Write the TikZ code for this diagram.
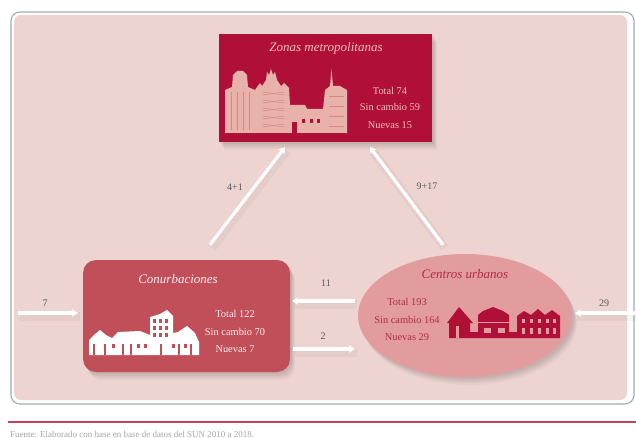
\documentclass[tikz,border=0pt]{standalone}
\usepackage{fontspec}
\setmainfont{Liberation Serif}
\usetikzlibrary{shapes.geometric,shadows,arrows.meta}
\definecolor{panelpink}{HTML}{EDD4D0}
\definecolor{zmred}{HTML}{B01038}
\definecolor{zmtext}{HTML}{EFC0B8}
\definecolor{zmbuild}{HTML}{E8B2AA}
\definecolor{cored}{HTML}{C04F5A}
\definecolor{ellpink}{HTML}{E39C9E}
\definecolor{ctext}{HTML}{B02A48}
\definecolor{footrule}{HTML}{C4405E}
\definecolor{framecol}{HTML}{9DAFAB}
\tikzset{
  softshadow/.style={
    drop shadow={shadow xshift=2pt,shadow yshift=-2pt,fill=black,opacity=.05},
    drop shadow={shadow xshift=3pt,shadow yshift=-4pt,fill=black,opacity=.05},
    drop shadow={shadow xshift=4pt,shadow yshift=-6pt,fill=black,opacity=.04},
    drop shadow={shadow xshift=5pt,shadow yshift=-8pt,fill=black,opacity=.03}},
  flow/.style={draw=white,line width=3.2pt,-{Stealth[length=6pt,width=8pt]},
    preaction={draw=black,opacity=.035,line width=9pt,-,transform canvas={xshift=2pt,yshift=-3pt}}},
  flowlabel/.style={font=\fontsize{10}{10}\selectfont,text=black!65,inner sep=0pt},
  zmbox/.style={rectangle,fill=zmred,minimum width=213pt,minimum height=108pt,inner sep=0pt,softshadow},
  cobox/.style={rectangle,rounded corners=13pt,fill=cored,minimum width=207pt,minimum height=112pt,inner sep=0pt,softshadow},
  ubox/.style={ellipse,fill=ellpink,minimum width=214pt,minimum height=123pt,inner sep=0pt,softshadow},
  title/.style={font=\fontsize{13}{13}\selectfont\itshape,inner sep=0pt},
  stat/.style={font=\fontsize{10.4}{10.4}\selectfont,inner sep=0pt},
}
\begin{document}
\begin{tikzpicture}[x=1pt,y=-1pt]
\useasboundingbox (0,0) rectangle (636,438);
\fill[white] (0,0) rectangle (636,438);
% panel
\draw[framecol,line width=1.1pt,fill=white,rounded corners=9pt] (11,12) rectangle (634,404);
\fill[panelpink,rounded corners=7pt] (14,15) rectangle (627,400);
% nodes
\node[zmbox] (zm) at (325.5,88) {};
\node[cobox] (co) at (186.5,316) {};
\node[ubox] (cu) at (465,315.5) {};
% connectors
\coordinate (inL) at (18,313);
\coordinate (inR) at (635,313);
\draw[flow] ([xshift=23.5pt,yshift=15pt]co.north) -- ([xshift=-40.5pt,yshift=-5pt]zm.south);
\draw[flow] ([xshift=-22pt,yshift=9pt]cu.north) -- ([xshift=44.5pt,yshift=-5pt]zm.south);
\draw[flow] (inL) -- ([xshift=-5pt,yshift=3pt]co.west);
\draw[flow] ([xshift=-3pt,yshift=14.5pt]cu.west) -- ([xshift=2pt,yshift=15pt]co.east);
\draw[flow] ([xshift=3pt,yshift=-33pt]co.east) -- ([xshift=-3pt,yshift=-33.5pt]cu.west);
\draw[flow] (inR) -- ([xshift=3pt,yshift=2.5pt]cu.east);
% connector labels
\node[flowlabel] (l7) at (45,303) {7};
\node[flowlabel] (l41) at (235,187) {4+1};
\node[flowlabel] (l917) at (427,186) {9+17};
\node[flowlabel] (l11) at (326,283) {11};
\node[flowlabel] (l2) at (323,336) {2};
\node[flowlabel] (l29) at (604,303) {29};
% titles and stats
\node[title,text=zmtext] (zt) at (326,48) {Zonas metropolitanas};
\node[stat,text=zmtext] (z1) at (390,91) {Total 74};
\node[stat,text=zmtext] (z2) at (390,107) {Sin cambio 59};
\node[stat,text=zmtext] (z3) at (390,125) {Nuevas 15};
\node[title,text=white!90!cored] (ct) at (178,279) {Conurbaciones};
\node[stat,text=white!90!cored] (c1) at (235,314) {Total 122};
\node[stat,text=white!90!cored] (c2) at (235,332) {Sin cambio 70};
\node[stat,text=white!90!cored] (c3) at (235,349) {Nuevas 7};
\node[title,text=ctext] (ut) at (465,274) {Centros urbanos};
\node[stat,text=ctext] (u1) at (407,302) {Total 193};
\node[stat,text=ctext] (u2) at (407,320) {Sin cambio 164};
\node[stat,text=ctext] (u3) at (407,337) {Nuevas 29};
% metropolitan skyline
\fill[zmbuild] (225,133) -- (225,90) -- (232,87) -- (233,75) -- (237,71) -- (243,71) -- (247,75) -- (248,87) -- (255,90) -- (257,87)
  -- (260,83) -- (262,86) -- (266,80) -- (267,72) -- (269,75) -- (271,69) -- (273,75) -- (275,72) -- (277,80) -- (281,86) -- (284,83) -- (289,88) -- (290,105) -- (305,105) -- (307,109)
  -- (323,109) -- (325,90) -- (330,86) -- (331.5,69) -- (333,86) -- (340,86) -- (347,90) -- (347,133) -- cycle;
\foreach \x in {231,237,243,249}{\draw[zmred!28!zmbuild,line width=.6pt] (\x,92) -- (\x,130);}
\foreach \y in {92,100,...,124}{\draw[zmred!28!zmbuild,line width=.5pt] (262,\y) -- (284,\y+3);\draw[zmred!28!zmbuild,line width=.5pt] (262,\y+3) -- (284,\y);}
\foreach \y in {96,106,116,126}{\draw[zmred!28!zmbuild,line width=.6pt] (329,\y) -- (344,\y);}
\fill[zmred] (292,122) rectangle (297,133);
\foreach \x in {302,310,317}{\fill[zmred] (\x,119) rectangle +(3,4);}
% conurbation skyline
\fill[white] (89,355) -- (89,340) -- (94,335) -- (100,330) -- (106,335) -- (112,338) -- (118,332) -- (140,331) -- (150,335) -- (150,317)
  -- (160,314) -- (167,310) -- (173,316) -- (173,333) -- (178,332) -- (187,326) -- (195,333) -- (199,342) -- (199,355) -- cycle;
\foreach \x in {153,159,165}{\foreach \y in {319,326,333}{\fill[cored] (\x,\y) rectangle +(3,3.5);}}
\foreach \x in {93,104,122,130,160,178,190}{\fill[cored] (\x,344) rectangle +(2,11);}
\foreach \x in {112,137,144,172,184}{\fill[cored] (\x,344) rectangle +(3,4);}
% urban skyline
\fill[zmred] (447,323) -- (459,307) -- (473,323) -- (470,323) -- (470,332) -- (478,332) -- (478,315) -- (483,311) -- (493,307) -- (503,311) -- (509,315)
  -- (509,332) -- (517,332) -- (517,316) -- (524,311) -- (531,315) -- (538,309) -- (545,315) -- (552,310) -- (560,316) -- (560,338) -- (449,338) -- (449,323) -- cycle;
\foreach \x in {484,498}{\fill[ellpink] (\x,328) rectangle +(7,5);}
\foreach \x in {522,530,538,546,553}{\fill[ellpink] (\x,319) rectangle +(3,4);\fill[ellpink] (\x,328) rectangle +(3,6);}
\fill[ellpink] (456,326) rectangle (459,338);
\draw[ellpink,line width=.6pt] (478,322) -- (509,322);
% footer
\fill[footrule] (8,420.5) rectangle (636,422.5);
\node[font=\fontsize{9}{9}\selectfont,text=black!35,anchor=west,inner sep=0pt] (src) at (10,434) {Fuente: Elaborado con base en base de datos del SUN 2010 a 2018.};
\end{tikzpicture}
\end{document}
